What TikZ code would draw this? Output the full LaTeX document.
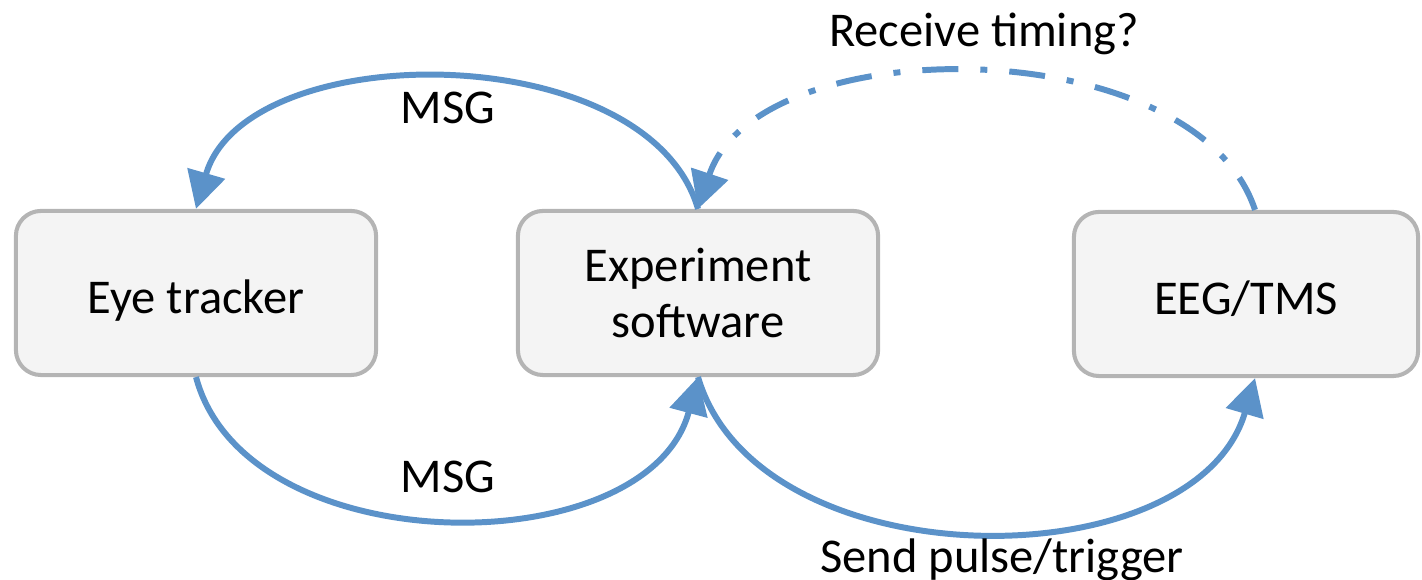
\documentclass[tikz,border=0pt]{standalone}
\usepackage{fontspec}
\setmainfont{Carlito}
\usepackage{xcolor}
\usepackage{tikz}
\usetikzlibrary{arrows.meta,positioning}

\definecolor{flowblue}{RGB}{91,146,201}
\definecolor{boxgray}{RGB}{180,180,180}
\definecolor{boxfill}{RGB}{244,244,244}

\begin{document}
\begin{tikzpicture}[
    x=0.01cm, y=0.01cm,
    device/.style={rectangle, rounded corners=0.25cm, draw=boxgray, fill=boxfill, line width=1.15pt, minimum width=3.6cm, minimum height=1.64cm, align=center, font=\fontsize{13.8}{15.9}\selectfont},
    oneline/.style={text height=12.6pt, text depth=1.2pt},
    lbl/.style={anchor=base, inner sep=0pt, font=\fontsize{13.8}{15.9}\selectfont},
    flow/.style={draw=flowblue, line width=1.7pt, -{Triangle[length=0.37cm, width=0.38cm]}},
    maybe/.style={flow, dash pattern=on 0.36cm off 0.22cm on 0.07cm off 0.22cm}
]
\useasboundingbox (0,0) rectangle (1422,580);

% Boxes
\node[device, oneline] (eye) at (196,287) {Eye tracker};
\node[device] (exp) at (698,287) {Experiment\\software};
\node[device, oneline, minimum width=3.44cm] (eeg) at (1246,286) {EEG/TMS};

% Connections
\draw[flow] (exp.north) .. controls +(-50,173) and +(50,173) .. (eye.north);
\draw[flow] (eye.south) .. controls +(50,-188) and +(-50,-188) .. (exp.south);
\draw[flow] (exp.south) .. controls +(60,-205) and +(-60,-205) .. ([xshift=0.09cm]eeg.south);
\draw[maybe] ([xshift=0.09cm]eeg.north) .. controls +(-60,181) and +(60,181) .. (exp.north);

% Labels
\node[lbl] (msgtop) at (448,456) {MSG};
\node[lbl] (msgbot) at (448,87) {MSG};
\node[lbl] (timing) at (984,533) {Receive timing?};
\node[lbl] (pulse) at (1002,7) {Send pulse/trigger};

\end{tikzpicture}
\end{document}
